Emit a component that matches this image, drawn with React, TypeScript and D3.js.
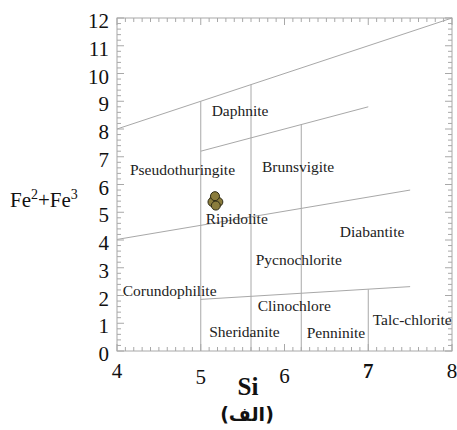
import React from "react";
import * as d3 from "d3";

// ---- data ----
const xTicks = [4, 5, 6, 7, 8];
const yTicks = [0, 1, 2, 3, 4, 5, 6, 7, 8, 9, 10, 11, 12];
const xTickLabelDrop = [0, 6, 5, 0, 0];
const xTickLabelBold = [false, false, false, true, false];

// boundary lines [x1, y1, x2, y2] in data units
const sloped = [
  [4, 8, 8, 12],
  [5, 7.2, 7, 8.8],
  [4, 4.02, 7.5, 5.8],
  [5, 1.86, 7.5, 2.32],
];
// vertical boundaries: x, yBottom, yTop
const verticals = [
  [5, 0, 9],
  [5.6, 0, 9.6],
  [6.2, 0, 8.16],
  [7, 0, 2.22],
];

const fieldNames = [
  "Daphnite", "Pseudothuringite", "Brunsvigite", "Ripidolite", "Diabantite",
  "Pycnochlorite", "Corundophilite", "Clinochlore", "Sheridanite", "Penninite", "Talc-chlorite",
];
const fieldX = [5.13, 4.155, 5.73, 5.06, 6.66, 5.656, 4.068, 5.68, 5.1, 6.265, 7.053];
const fieldY = [8.47, 6.34, 6.46, 4.58, 4.12, 3.1, 1.98, 1.45, 0.49, 0.46, 0.94];

const sampleSi = [5.16, 5.14, 5.21, 5.18, 5.17];
const sampleFe = [5.45, 5.37, 5.37, 5.24, 5.58];

const W = 457, H = 430;
const M = { left: 117, right: 452, top: 18, bottom: 351 };

export default function App() {
  const x = d3.scaleLinear().domain([4, 8]).range([M.left, M.right]);
  const y = d3.scaleLinear().domain([0, 12]).range([M.bottom, M.top]);
  const serif = "Liberation Serif, Times New Roman, DejaVu Serif, serif";
  const frame = "#a8a8a8";
  const lineC = "#a8a8a8";

  const xMinor = d3.range(40, 81).map((v) => v / 10);
  const yMinor = d3.range(0, 61).map((v) => v / 5);

  return (
    <svg width={W} height={H} style={{ position: "absolute", left: 0, top: 0, background: "#fff" }}>
      {sloped.map((l, i) => (
        <line key={"s" + i} x1={x(l[0])} y1={y(l[1])} x2={x(l[2])} y2={y(l[3])} stroke={lineC} strokeWidth={1} />
      ))}
      {verticals.map((v, i) => (
        <line key={"v" + i} x1={x(v[0])} y1={y(v[1])} x2={x(v[0])} y2={y(v[2])} stroke={lineC} strokeWidth={1} />
      ))}
      <rect x={M.left} y={M.top} width={M.right - M.left} height={M.bottom - M.top} fill="none" stroke={frame} strokeWidth={1} />
      {xMinor.map((v, i) => {
        const major = Math.abs(v - Math.round(v)) < 1e-6;
        const len = major ? 7 : 4;
        return (
          <g key={"xt" + i}>
            <line x1={x(v)} x2={x(v)} y1={M.bottom} y2={M.bottom - len} stroke={frame} />
            <line x1={x(v)} x2={x(v)} y1={M.top} y2={M.top + len} stroke={frame} />
          </g>
        );
      })}
      {yMinor.map((v, i) => {
        const major = Math.abs(v - Math.round(v)) < 1e-6;
        const len = major ? 7 : 4;
        return (
          <g key={"yt" + i}>
            <line x1={M.left} x2={M.left + len} y1={y(v)} y2={y(v)} stroke={frame} />
            <line x1={M.right} x2={M.right - len} y1={y(v)} y2={y(v)} stroke={frame} />
          </g>
        );
      })}
      {xTicks.map((t, i) => (
        <text key={"xl" + i} x={x(t)} y={M.bottom + 27 + xTickLabelDrop[i]} textAnchor="middle"
          style={{ fontFamily: serif }} fontSize={21} fontWeight={xTickLabelBold[i] ? "bold" : "normal"} fill="#111">
          {t}
        </text>
      ))}
      {yTicks.map((t, i) => (
        <text key={"yl" + i} x={M.left - 8} y={y(t) + 10} textAnchor="end" style={{ fontFamily: serif }} fontSize={21} fill="#111">
          {t}
        </text>
      ))}
      <text x={248} y={395} textAnchor="middle" style={{ fontFamily: serif }} fontSize={25} fontWeight="bold" fill="#111">Si</text>
      <text x={10} y={207} style={{ fontFamily: serif }} fontSize={21} fill="#111">
        Fe<tspan fontSize={14} dy={-8}>2</tspan><tspan dy={8}>+Fe</tspan><tspan fontSize={14} dy={-8}>3</tspan>
      </text>
      <text x={247} y={421} textAnchor="middle" style={{ fontFamily: "DejaVu Sans, sans-serif" }} fontSize={19} fontWeight="bold" fill="#111">(الف)</text>
      {fieldNames.map((n, i) => (
        <text key={"f" + i} x={x(fieldX[i])} y={y(fieldY[i])} style={{ fontFamily: serif }} fontSize={15.5} fill="#222">{n}</text>
      ))}
      {sampleSi.map((s, i) => (
        <circle key={"p" + i} cx={x(s)} cy={y(sampleFe[i])} r={4.5} fill="#8a7c3c" stroke="#2e2a15" strokeWidth={1} />
      ))}
    </svg>
  );
}
